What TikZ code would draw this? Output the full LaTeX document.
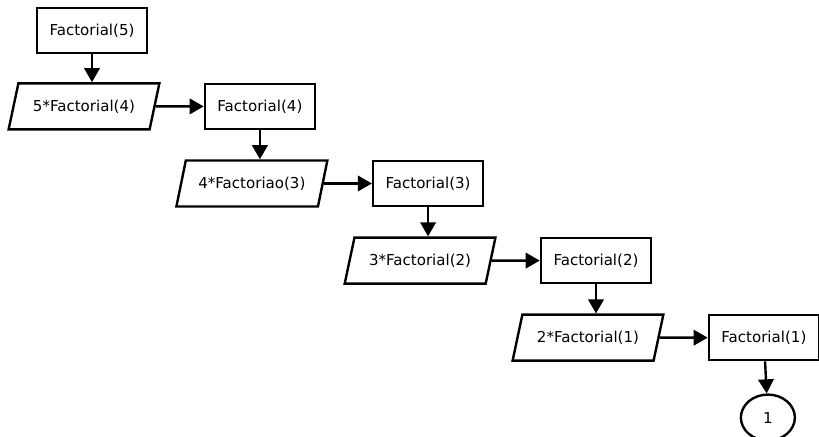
\documentclass[tikz,border=0pt]{standalone}
\usepackage{fontspec}
\setmainfont{DejaVu Sans}
\usetikzlibrary{shapes.geometric, arrows.meta, positioning}
\tikzstyle{call} = [rectangle, 
minimum width=2.75cm, 
minimum height=1.125cm, 
text centered, 
line width=1.7pt,
draw=black]
\tikzstyle{io} = [trapezium, 
trapezium stretches=true,
trapezium left angle=70, 
trapezium right angle=110, 
minimum width=3.8cm, 
minimum height=1.15cm, text centered, 
line width=1.7pt,
draw=black]
\tikzstyle{result} = [ellipse, 
minimum width=1.35cm, 
minimum height=1.15cm, 
text centered, 
line width=1.7pt,
draw=black]
\tikzstyle{arrow} = [line width=1.7pt,-{Triangle[length=10pt,width=11pt]}]

\begin{document}
\begin{tikzpicture}[node distance=0.73cm and 1.2cm, auto, font=\fontsize{10.7}{12}\selectfont]
        \useasboundingbox (-2.3,-10.1625) rectangle (18.175,0.7625);

        % --- Nodos ---
        \node (fact5) [call] {Factorial(5)};
        \node (mult4) [io, below=0.7cm of fact5, xshift=-0.2cm] {5*Factorial(4)};
        \node (fact4) [call, right=of mult4] {Factorial(4)};
        \node (mult3) [io, below=of fact4, xshift=-0.2cm] {4*Factoriao(3)};
        \node (fact3) [call, right=of mult3] {Factorial(3)};
        \node (mult2) [io, below=of fact3, xshift=-0.2cm] {3*Factorial(2)};
        \node (fact2) [call, right=of mult2] {Factorial(2)};
        \node (mult1) [io, below=of fact2, xshift=-0.2cm] {2*Factorial(1)};
        \node (fact1) [call, right=of mult1] {Factorial(1)};
        \node (one) [result, below=0.8cm of fact1, xshift=0.1cm] {1};

        % --- Conexiones ---
        \draw [arrow] (fact5) -- (fact5 |- mult4.north);
        \draw [arrow] (mult4) -- (fact4);
        \draw [arrow] (fact4) -- (fact4 |- mult3.north);
        \draw [arrow] (mult3) -- (fact3);
        \draw [arrow] (fact3) -- (fact3 |- mult2.north);
        \draw [arrow] (mult2) -- (fact2);
        \draw [arrow] (fact2) -- (fact2 |- mult1.north);
        \draw [arrow] (mult1) -- (fact1);
        \draw [arrow] (fact1) -- (one);

    \end{tikzpicture}
\end{document}
